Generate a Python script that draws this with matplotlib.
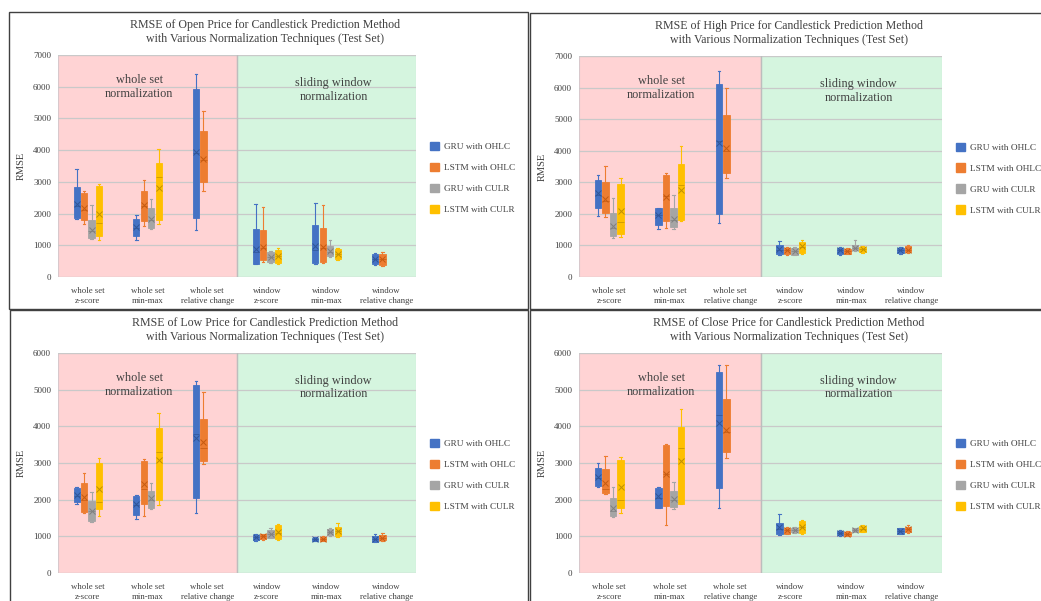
import numpy as np
import matplotlib
matplotlib.use("Agg")
from matplotlib import pyplot as plt
from matplotlib.patches import Rectangle, Patch

plt.rcParams['font.family'] = ['Liberation Serif', 'DejaVu Serif']

W, H = 1041, 601

categories = ["whole set\nz-score", "whole set\nmin-max", "whole set\nrelative change",
              "window\nz-score", "window\nmin-max", "window\nrelative change"]
series_names = ["GRU with OHLC", "LSTM with OHLC", "GRU with CULR", "LSTM with CULR"]
series_colors = ["#4472C4", "#ED7D31", "#A5A5A5", "#FFC000"]
edge_colors = ["#2F5597", "#C55A11", "#7F7F7F", "#BF9000"]

# each entry: (whisker low, q1, median, q3, whisker high, mean); None = no box
open_gru_ohlc = [(1840, 1875, 2250, 2840, 3420, 2295), (1180, 1305, 1550, 1840, 1970, 1580),
                 (1475, 1865, 3900, 5915, 6400, 3945), (420, 420, 800, 1525, 2315, 895),
                 (420, 455, 850, 1630, 2345, 970), (390, 400, 560, 735, 770, 580)]
open_lstm_ohlc = [(1685, 1790, 2100, 2655, 2705, 2160), (1610, 1760, 2250, 2705, 3050, 2265),
                  (2715, 3000, 3700, 4600, 5240, 3705), (475, 525, 900, 1495, 2210, 945),
                  (440, 475, 900, 1545, 2260, 945), (360, 390, 580, 715, 790, 580)]
open_gru_culr = [(1210, 1230, 1450, 1790, 2275, 1475), (1525, 1545, 1800, 2160, 2475, 1840),
                 None, (440, 475, 620, 790, 820, 630),
                 (630, 655, 800, 970, 1160, 820), None]
open_lstm_culr = [(1160, 1305, 1700, 2865, 2945, 2000), (1665, 1810, 3150, 3610, 4030, 2810),
                  None, (420, 440, 650, 865, 925, 655),
                  (545, 580, 740, 895, 915, 735), None]

high_gru_ohlc = [(1925, 2190, 2600, 3065, 3225, 2645), (1535, 1660, 1950, 2170, 2200, 1975),
                 (1715, 2010, 4300, 6100, 6535, 4250), (690, 720, 850, 1005, 1140, 900),
                 (710, 740, 840, 930, 950, 845), (740, 760, 840, 930, 950, 845)]
high_lstm_ohlc = [(1905, 2040, 2400, 2995, 3510, 2485), (1565, 1775, 2550, 3225, 3280, 2540),
                  (3150, 3280, 4000, 5130, 5975, 4090), (710, 720, 840, 930, 950, 845),
                  (740, 740, 820, 900, 930, 825), (760, 795, 860, 975, 1025, 865)]
high_gru_culr = [(1250, 1290, 1550, 2040, 2515, 1605), (1510, 1585, 1800, 2200, 2610, 1850),
                 None, (685, 685, 820, 930, 950, 825),
                 (825, 845, 920, 1005, 1160, 930), None]
high_lstm_culr = [(1270, 1375, 1750, 2960, 3120, 2085), (1775, 1820, 2900, 3595, 4145, 2750),
                  None, (740, 760, 950, 1110, 1165, 975),
                  (770, 795, 890, 950, 975, 900), None]

low_gru_ohlc = [(1870, 1925, 2100, 2305, 2355, 2125), (1460, 1580, 1850, 2095, 2125, 1870),
                (1625, 2035, 3800, 5135, 5250, 3695), (865, 895, 980, 1050, 1075, 985),
                (865, 875, 940, 965, 985, 940), (850, 850, 940, 1010, 1060, 940)]
low_lstm_ohlc = [(1625, 1670, 2000, 2460, 2715, 2080), (1550, 1895, 2300, 3055, 3100, 2415),
                 (2965, 3055, 3400, 4205, 4935, 3585), (895, 920, 1000, 1060, 1075, 1010),
                 (865, 875, 940, 985, 1010, 940), (875, 895, 965, 1050, 1095, 965)]
low_gru_culr = [(1395, 1415, 1700, 1960, 2200, 1695), (1740, 1780, 2000, 2235, 2445, 2035),
                None, (960, 965, 1060, 1165, 1230, 1075),
                (1010, 1030, 1120, 1195, 1230, 1120), None]
low_lstm_culr = [(1560, 1740, 1950, 3010, 3145, 2290), (1850, 1990, 3300, 3965, 4375, 3080),
                 None, (895, 940, 1100, 1305, 1350, 1120),
                 (985, 1005, 1140, 1260, 1375, 1140), None]

close_gru_ohlc = [(2335, 2380, 2600, 2855, 2990, 2625), (1780, 1785, 2050, 2325, 2335, 2105),
                  (1785, 2305, 4300, 5470, 5665, 4085), (1050, 1075, 1200, 1375, 1605, 1260),
                  (1010, 1030, 1090, 1140, 1165, 1095), (1060, 1075, 1150, 1215, 1230, 1150)]
close_lstm_ohlc = [(2145, 2190, 2300, 2825, 3200, 2460), (1305, 1835, 2700, 3495, 3510, 2700),
                   (3145, 3310, 3850, 4750, 5665, 3905), (1060, 1075, 1165, 1230, 1260, 1165),
                   (1005, 1010, 1075, 1120, 1140, 1075), (1095, 1105, 1200, 1260, 1305, 1205)]
close_gru_culr = [(1530, 1560, 1700, 2035, 2355, 1780), (1740, 1805, 2000, 2235, 2470, 2015),
                  None, (1100, 1105, 1165, 1230, 1260, 1165),
                  (1120, 1120, 1165, 1215, 1230, 1165), None]
close_lstm_culr = [(1625, 1785, 2000, 3080, 3175, 2355), (1895, 1895, 3400, 3995, 4475, 3065),
                   None, (1075, 1095, 1250, 1415, 1440, 1260),
                   (1105, 1120, 1210, 1285, 1320, 1215), None]

panels = [
    ("Open", [open_gru_ohlc, open_lstm_ohlc, open_gru_culr, open_lstm_culr], 7000, (58, 55, 416, 277), 265),
    ("High", [high_gru_ohlc, high_lstm_ohlc, high_gru_culr, high_lstm_culr], 7000, (579, 56, 942, 277), 789),
    ("Low", [low_gru_ohlc, low_lstm_ohlc, low_gru_culr, low_lstm_culr], 6000, (58, 353, 416, 573), 265),
    ("Close", [close_gru_ohlc, close_lstm_ohlc, close_gru_culr, close_lstm_culr], 6000, (579, 353, 942, 573), 789),
]
# panel frames in pixels (x0, y0, x1, y1)
frames = [(9, 12, 528, 309), (530, 13, 1045, 309), (10, 310, 528, 605), (530, 310, 1045, 605)]

fig = plt.figure(figsize=(W / 100, H / 100), dpi=100)

for fx0, fy0, fx1, fy1 in frames:
    fig.patches.append(Rectangle((fx0 / W, 1 - fy1 / H), (fx1 - fx0) / W, (fy1 - fy0) / H,
                                 transform=fig.transFigure, fill=False,
                                 edgecolor="#404040", lw=1.0, zorder=0))

offsets = np.array([-1.5, -0.5, 0.5, 1.5]) * 0.125
pos_c = np.arange(1, len(categories) + 1)

for name, series, ymax, (x0, y0, x1, y1), title_x in panels:
    ax = fig.add_axes([x0 / W, 1 - y1 / H, (x1 - x0) / W, (y1 - y0) / H])
    ax.axvspan(0.5, 3.5, facecolor="#FFD3D4", edgecolor="#D8C8CC", lw=0.8, zorder=0)
    ax.axvspan(3.5, 6.5, facecolor="#D5F5DF", edgecolor="#C8DCCF", lw=0.8, zorder=0)
    ax.set_axisbelow(True)
    ax.yaxis.grid(True, color="#C9C9C9", lw=0.9)

    for s, data in enumerate(series):
        stats, pos = [], []
        for c, d in enumerate(data):
            if d is None:
                continue
            lo, q1, med, q3, hi, mean = d
            stats.append(dict(whislo=lo, q1=q1, med=med, q3=q3, whishi=hi, mean=mean, fliers=[]))
            pos.append(pos_c[c] + offsets[s])
        ax.bxp(stats, positions=pos, widths=0.105, patch_artist=True, showmeans=True,
               showfliers=False, manage_ticks=False,
               boxprops=dict(facecolor=series_colors[s], edgecolor=series_colors[s], lw=0.6),
               whiskerprops=dict(color=series_colors[s], lw=0.8),
               capprops=dict(color=series_colors[s], lw=0.8),
               medianprops=dict(color=edge_colors[s], lw=0.5),
               meanprops=dict(marker="x", markeredgecolor=edge_colors[s], markersize=5,
                              markeredgewidth=0.7),
               capwidths=0.04)

    ax.axvline(3.5, color="#BDBDBD", lw=1.0, zorder=0.6)
    ax.set_xlim(0.5, 6.5)
    ax.set_ylim(0, ymax)
    ax.set_yticks(np.arange(0, ymax + 1, 1000))
    ax.set_xticks(pos_c)
    ax.set_xticklabels(categories, fontsize=6.3, color="#404040", linespacing=1.3)
    ax.tick_params(axis="y", labelsize=6.5, labelcolor="#404040", length=0, pad=5)
    ax.tick_params(axis="x", length=0, pad=7)
    for sp in ax.spines.values():
        sp.set_visible(False)
    ax.set_ylabel("RMSE", fontsize=7.5, color="#404040", labelpad=5)

    ax.text(1.86, ymax * 0.855, "whole set\nnormalization", ha="center", va="center",
            fontsize=8.8, color="#404040", linespacing=1.2)
    ax.text(5.12, ymax * 0.843, "sliding window\nnormalization", ha="center", va="center",
            fontsize=8.8, color="#404040", linespacing=1.2)

    fig.text(title_x / W, 1 - (y0 - 23) / H,
             "RMSE of %s Price for Candlestick Prediction Method\n"
             "with Various Normalization Techniques (Test Set)" % name,
             ha="center", va="center", fontsize=8.6, color="#404040", linespacing=1.15)

    handles = [Patch(facecolor=c, edgecolor=c) for c in series_colors]
    ax.legend(handles, series_names, loc="center left", bbox_to_anchor=(1.025, 0.445),
              frameon=False, fontsize=6.7, handlelength=1.0, handleheight=1.0,
              handletextpad=0.5, labelspacing=1.25, borderpad=0, labelcolor="#404040")

fig.savefig("out.png", dpi=100)
